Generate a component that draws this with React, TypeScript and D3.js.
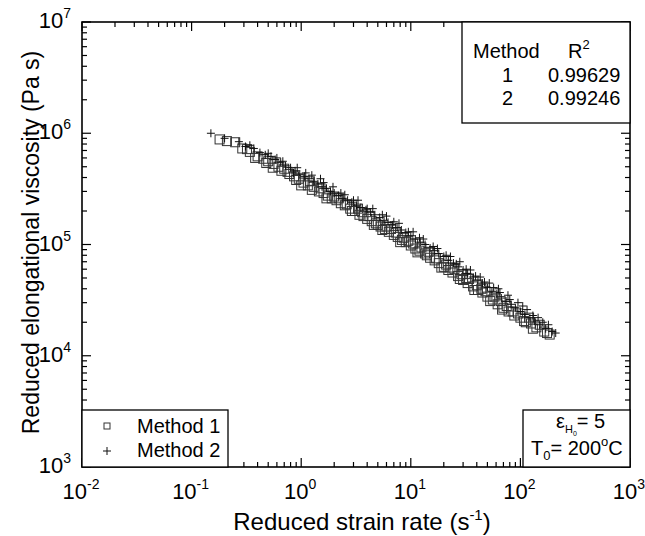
import React from "react";
import * as d3 from "d3";

// Method 1 (open squares): reduced strain rate (1/s), reduced elongational viscosity (Pa s)
const method1X = [0.18, 0.25, 0.29, 0.32, 0.34, 0.40, 0.45, 0.48, 0.50, 0.56, 0.62, 0.66, 0.70, 0.78, 0.86, 0.90, 0.95, 1.05, 1.15, 1.2, 1.3, 1.45, 1.5, 1.6, 1.75, 1.9, 2.0, 2.1, 2.3, 2.5, 2.6, 2.8, 3.1, 3.3, 3.4, 3.7, 4.0, 4.2, 4.4, 4.8, 5.0, 5.3, 5.8, 6.0, 6.3, 7.0, 7.3, 7.6, 8.3, 8.6, 9.0, 10, 10.5, 11, 12, 12.5, 13.5, 14, 15, 16.5, 17, 18, 20, 21, 22, 24, 25, 27, 29, 30, 33, 34, 37, 40, 41, 45, 48, 50, 56, 58, 62, 66, 70, 75, 78, 88, 95, 100, 112, 120, 125, 140, 150, 165, 185];
const method1Y = [8.8e5, 8.3e5, 7.3e5, 7.2e5, 6.8e5, 6.2e5, 5.9e5, 5.4e5, 5.6e5, 5.3e5, 5.0e5, 4.6e5, 4.8e5, 4.3e5, 4.1e5, 3.8e5, 3.9e5, 3.6e5, 3.4e5, 3.7e5, 3.3e5, 3.0e5, 3.2e5, 2.9e5, 2.75e5, 2.6e5, 2.7e5, 2.5e5, 2.35e5, 2.25e5, 2.3e5, 2.1e5, 2.0e5, 2.1e5, 1.85e5, 1.8e5, 1.7e5, 1.8e5, 1.62e5, 1.55e5, 1.5e5, 1.45e5, 1.38e5, 1.45e5, 1.3e5, 1.22e5, 1.28e5, 1.17e5, 1.1e5, 1.15e5, 1.05e5, 9.8e4, 1.02e5, 9.2e4, 8.8e4, 9.4e4, 8.3e4, 8.0e4, 7.6e4, 7.2e4, 7.5e4, 6.8e4, 6.3e4, 6.6e4, 5.9e4, 5.6e4, 6.0e4, 5.2e4, 5.4e4, 4.8e4, 4.5e4, 4.9e4, 4.2e4, 4.3e4, 3.9e4, 3.7e4, 3.8e4, 3.4e4, 3.2e4, 3.4e4, 2.9e4, 3.1e4, 2.7e4, 2.8e4, 2.5e4, 2.3e4, 2.4e4, 2.2e4, 2.0e4, 2.2e4, 1.95e4, 1.8e4, 1.9e4, 1.65e4, 1.55e4];
// Method 1, further runs
const method1RunBX = [0.21, 0.38, 0.55, 0.75, 1.0, 1.25, 1.7, 2.2, 2.9, 3.6, 4.6, 5.5, 6.6, 8.0, 9.5, 11.5, 14.5, 19, 23, 28, 32, 38, 44, 53, 68, 85, 108, 130, 175];
const method1RunBY = [8.5e5, 6.0e5, 4.9e5, 4.5e5, 3.4e5, 3.1e5, 2.6e5, 2.6e5, 2.0e5, 1.95e5, 1.5e5, 1.35e5, 1.38e5, 1.05e5, 1.08e5, 8.5e4, 8.6e4, 6.2e4, 6.2e4, 4.9e4, 5.0e4, 3.9e4, 4.0e4, 3.1e4, 2.6e4, 2.5e4, 2.05e4, 1.75e4, 1.6e4];

// Method 2 (plus signs)
const method2X = [0.15, 0.27, 0.31, 0.37, 0.42, 0.47, 0.53, 0.58, 0.60, 0.65, 0.72, 0.80, 0.85, 0.88, 0.97, 1.07, 1.1, 1.18, 1.3, 1.42, 1.55, 1.6, 1.7, 1.85, 2.0, 2.2, 2.3, 2.4, 2.65, 2.9, 3.0, 3.2, 3.5, 3.9, 4.0, 4.3, 4.7, 5.2, 5.5, 5.7, 6.2, 6.8, 7.0, 7.5, 8.2, 9.0, 9.5, 10, 11, 12, 12.2, 13.5, 15, 16, 16.5, 18, 20, 21, 22, 24.5, 26, 27, 30, 32, 33, 37, 39, 41, 45, 47, 50, 55, 57, 61, 65, 67, 74, 80, 82, 90, 100, 105, 110, 122, 130, 135, 150, 160, 170, 195, 210];
const method2Y = [1.0e6, 8.4e5, 7.6e5, 7.3e5, 6.7e5, 6.4e5, 6.2e5, 5.8e5, 6.0e5, 5.5e5, 5.1e5, 4.9e5, 4.4e5, 4.6e5, 4.3e5, 4.1e5, 4.4e5, 3.9e5, 3.7e5, 3.5e5, 3.3e5, 3.6e5, 3.2e5, 3.0e5, 2.9e5, 2.75e5, 2.9e5, 2.6e5, 2.5e5, 2.4e5, 2.5e5, 2.25e5, 2.15e5, 2.05e5, 2.1e5, 1.95e5, 1.85e5, 1.75e5, 1.85e5, 1.65e5, 1.58e5, 1.5e5, 1.6e5, 1.42e5, 1.35e5, 1.28e5, 1.3e5, 1.2e5, 1.12e5, 1.15e5, 1.05e5, 1.0e5, 9.3e4, 9.6e4, 8.8e4, 8.3e4, 7.8e4, 8.0e4, 7.2e4, 6.8e4, 6.7e4, 6.3e4, 5.9e4, 6.0e4, 5.5e4, 5.1e4, 5.2e4, 4.8e4, 4.5e4, 4.6e4, 4.1e4, 3.8e4, 4.1e4, 3.6e4, 3.7e4, 3.3e4, 3.1e4, 3.2e4, 2.9e4, 2.7e4, 2.5e4, 2.8e4, 2.35e4, 2.2e4, 2.3e4, 2.05e4, 1.9e4, 2.0e4, 1.75e4, 1.65e4, 1.6e4];
// Method 2, further runs
const method2RunBX = [0.2, 0.34, 0.5, 0.68, 0.92, 1.25, 1.5, 1.95, 2.5, 3.3, 4.5, 6.0, 7.8, 10.5, 13, 17.5, 23, 28, 35, 43, 52, 63, 77, 95, 115, 145, 180];
const method2RunBY = [9.0e5, 7.8e5, 6.6e5, 5.6e5, 4.9e5, 4.2e5, 3.9e5, 3.3e5, 2.8e5, 2.5e5, 2.1e5, 1.8e5, 1.55e5, 1.3e5, 1.12e5, 9.2e4, 7.8e4, 7.0e4, 5.9e4, 5.1e4, 4.5e4, 4.0e4, 3.5e4, 3.0e4, 2.6e4, 2.2e4, 1.9e4];

const xTickExps = [-2, -1, 0, 1, 2, 3];
const yTickExps = [3, 4, 5, 6, 7];
const tableMethods = ["1", "2"];
const tableR2 = ["0.99629", "0.99246"];
const legendLabels = ["Method 1", "Method 2"];

const FONT = "'Liberation Sans', Arial, Helvetica, sans-serif";

export default function App() {
  const W = 645, H = 536;
  const L = 82, R = 630, T = 22, B = 467;
  const x = d3.scaleLog().domain([1e-2, 1e3]).range([L, R]);
  const y = d3.scaleLog().domain([1e3, 1e7]).range([B, T]);

  const minorX: number[] = [];
  for (let e = -2; e < 3; e++) for (let m = 2; m <= 9; m++) minorX.push(m * Math.pow(10, e));
  const minorY: number[] = [];
  for (let e = 3; e < 7; e++) for (let m = 2; m <= 9; m++) minorY.push(m * Math.pow(10, e));

  const majL = 9, minL = 5;
  const tickStroke = { stroke: "#000", strokeWidth: 1.2 };

  const pts1 = method1X.map((v, i) => [v, method1Y[i]]).concat(method1RunBX.map((v, i) => [v, method1RunBY[i]]));
  const pts2 = method2X.map((v, i) => [v, method2Y[i]]).concat(method2RunBX.map((v, i) => [v, method2RunBY[i]]));

  const sq = 9, pl = 8;

  return (
    <svg width={W} height={H} style={{ position: "absolute", left: 0, top: 0, background: "#fff" }} fontFamily={FONT}>
      <rect x={0} y={0} width={W} height={H} fill="#fff" />
      {xTickExps.map((e) => {
        const px = x(Math.pow(10, e));
        return (
          <g key={"xt" + e}>
            <line x1={px} x2={px} y1={B} y2={B - majL} {...tickStroke} />
            <line x1={px} x2={px} y1={T} y2={T + majL} {...tickStroke} />
          </g>
        );
      })}
      {minorX.map((v, i) => {
        const px = x(v);
        return (
          <g key={"xm" + i}>
            <line x1={px} x2={px} y1={B} y2={B - minL} {...tickStroke} />
            <line x1={px} x2={px} y1={T} y2={T + minL} {...tickStroke} />
          </g>
        );
      })}
      {yTickExps.map((e) => {
        const py = y(Math.pow(10, e));
        return (
          <g key={"yt" + e}>
            <line x1={L} x2={L + majL} y1={py} y2={py} {...tickStroke} />
            <line x1={R} x2={R - majL} y1={py} y2={py} {...tickStroke} />
          </g>
        );
      })}
      {minorY.map((v, i) => {
        const py = y(v);
        return (
          <g key={"ym" + i}>
            <line x1={L} x2={L + minL} y1={py} y2={py} {...tickStroke} />
            <line x1={R} x2={R - minL} y1={py} y2={py} {...tickStroke} />
          </g>
        );
      })}

      {pts1.map((p, i) => (
        <rect key={"s" + i} x={x(p[0]) - sq / 2} y={y(p[1]) - sq / 2} width={sq} height={sq} fill="none" stroke="#333" strokeWidth={1} />
      ))}
      {pts2.map((p, i) => {
        const cx = x(p[0]), cy = y(p[1]);
        return (
          <g key={"p" + i} stroke="#111" strokeWidth={1}>
            <line x1={cx - pl / 2} x2={cx + pl / 2} y1={cy} y2={cy} />
            <line x1={cx} x2={cx} y1={cy - pl / 2} y2={cy + pl / 2} />
          </g>
        );
      })}

      <rect x={L} y={T} width={R - L} height={B - T} fill="none" stroke="#000" strokeWidth={1.6} />

      {xTickExps.map((e) => (
        <text key={"xl" + e} x={x(Math.pow(10, e)) - 1} y={499} fontSize={22} textAnchor="middle">
          10<tspan dy={-10} fontSize={14}>{e}</tspan>
        </text>
      ))}
      {yTickExps.map((e) => (
        <text key={"yl" + e} x={71} y={y(Math.pow(10, e)) + 6} fontSize={22} textAnchor="end">
          10<tspan dy={-10} fontSize={14}>{e}</tspan>
        </text>
      ))}

      <text x={362} y={530} fontSize={24} textAnchor="middle">
        Reduced strain rate (s<tspan dy={-10} fontSize={15}>-1</tspan><tspan dy={10}>)</tspan>
      </text>
      <text transform={`translate(39,${(T + B) / 2 - 2}) rotate(-90)`} fontSize={23} textAnchor="middle">
        Reduced elongational viscosity (Pa s)
      </text>

      <rect x={462} y={T} width={R - 462} height={123 - T} fill="#fff" stroke="#000" strokeWidth={1.3} />
      <text x={473} y={58} fontSize={20}>Method</text>
      <text x={568} y={58} fontSize={20}>R<tspan dy={-9} fontSize={13}>2</tspan></text>
      {tableMethods.map((m, i) => (
        <g key={"tr" + i}>
          <text x={513} y={82 + i * 23} fontSize={20} textAnchor="end">{m}</text>
          <text x={548} y={82 + i * 23} fontSize={20}>{tableR2[i]}</text>
        </g>
      ))}

      <rect x={L} y={410} width={228 - L} height={B - 410} fill="#fff" stroke="#000" strokeWidth={1.3} />
      <rect x={107 - 3} y={426 - 3} width={6} height={6} fill="none" stroke="#333" strokeWidth={1} />
      <g stroke="#111" strokeWidth={1}>
        <line x1={103} x2={111} y1={451} y2={451} />
        <line x1={107} x2={107} y1={447} y2={455} />
      </g>
      {legendLabels.map((l, i) => (
        <text key={"lg" + i} x={137} y={433 + i * 24} fontSize={20}>{l}</text>
      ))}

      <rect x={523} y={410} width={R - 523} height={B - 410} fill="#fff" stroke="#000" strokeWidth={1.3} />
      <text x={556} y={428} fontSize={20}>
        ε<tspan dy={5} fontSize={11}>H</tspan><tspan dy={3} fontSize={7}>0</tspan><tspan dy={-8} fontSize={20}>= 5</tspan>
      </text>
      <text x={531} y={455} fontSize={20}>
        T<tspan dy={5} fontSize={13}>0</tspan><tspan dy={-5}>= 200</tspan><tspan dy={-9} fontSize={13}>o</tspan><tspan dy={9}>C</tspan>
      </text>
    </svg>
  );
}
